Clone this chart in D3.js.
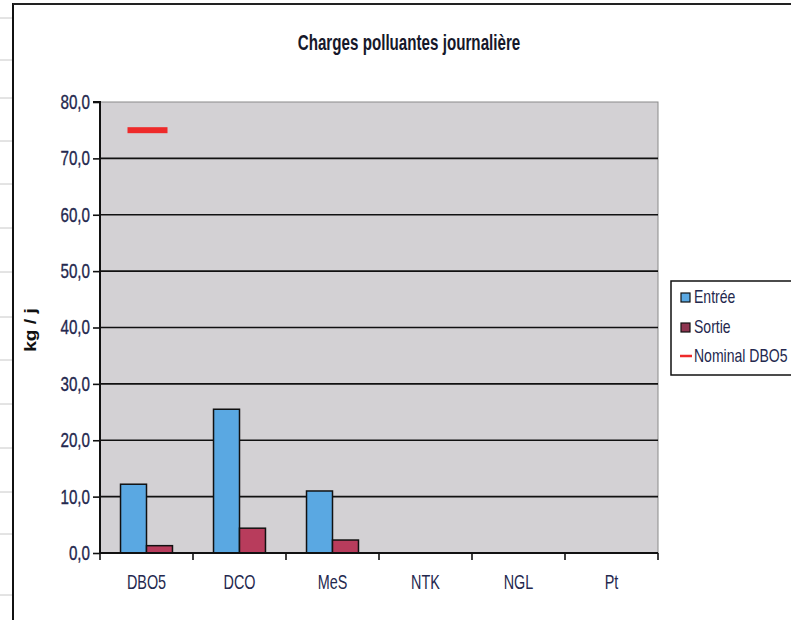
<!DOCTYPE html>
<html><head><meta charset="utf-8">
<script src="https://cdn.jsdelivr.net/npm/d3@7"></script>
<style>
body{margin:0;background:#fff;}
svg{display:block;}
text{font-family:"Liberation Sans",Arial,sans-serif;}
</style></head>
<body>
<svg id="c" width="791" height="620"></svg>
<script>
const categories = ["DBO5","DCO","MeS","NTK","NGL","Pt"];
const entree = [12.2, 25.5, 11.0, null, null, null];
const sortie = [1.3, 4.4, 2.3, null, null, null];
const nominalDBO5 = [75, null, null, null, null, null];
const yTicks = [0,10,20,30,40,50,60,70,80];
const seriesNames = ["Entrée","Sortie","Nominal DBO5"];

// condensed text helper (narrow font look)
function condense(sel, sx){
  sel.each(function(){
    const t = d3.select(this);
    const x = +t.attr("x") || 0;
    t.attr("x", x/sx).attr("transform", `scale(${sx},1)`);
  });
}

const svg = d3.select("#c");
// spreadsheet background traces
const bg = svg.append("g");
[18,60,98,141,184,228,272,317,360,404,448,492,534,595].forEach(y=>{
  bg.append("line").attr("x1",0).attr("x2",12).attr("y1",y).attr("y2",y).attr("stroke","#c8c8c8").attr("stroke-width",1);
});
// chart frame
svg.append("line").attr("x1",13).attr("x2",13).attr("y1",3).attr("y2",620).attr("stroke","#111").attr("stroke-width",2);
svg.append("line").attr("x1",13).attr("x2",791).attr("y1",4).attr("y2",4).attr("stroke","#222").attr("stroke-width",2);

const m = {l:100, r:658, t:102, b:553};
const x = d3.scaleBand().domain(categories).range([m.l, m.r]);
const y = d3.scaleLinear().domain([0,80]).range([m.b, m.t]);

// plot area
svg.append("rect").attr("x",m.l).attr("y",m.t).attr("width",m.r-m.l).attr("height",m.b-m.t)
  .attr("fill","#d3d1d4").attr("stroke","#8a8a8a").attr("stroke-width",1);

// gridlines
svg.append("g").selectAll("line").data(yTicks.filter(d=>d>0 && d<80)).join("line")
  .attr("x1",m.l).attr("x2",m.r).attr("y1",d=>y(d)).attr("y2",d=>y(d))
  .attr("stroke","#111").attr("stroke-width",1.6);

// bars
const inner = d3.scaleBand().domain(["e","s"]).range([0, x.bandwidth()]).paddingOuter(0.79).paddingInner(0);
const colors = {e:"#5aa8e2", s:"#b83c5c"};
[["e",entree],["s",sortie]].forEach(([k,arr])=>{
  svg.append("g").selectAll("rect").data(categories.map((c,i)=>({c,v:arr[i]})).filter(d=>d.v!=null)).join("rect")
    .attr("x",d=>x(d.c)+inner(k)).attr("width",inner.bandwidth())
    .attr("y",d=>y(d.v)).attr("height",d=>y(0)-y(d.v))
    .attr("fill",colors[k]).attr("stroke","#111").attr("stroke-width",1.5);
});

// nominal DBO5 marker
svg.append("g").selectAll("rect").data(categories.map((c,i)=>({c,v:nominalDBO5[i]})).filter(d=>d.v!=null)).join("rect")
  .attr("x",d=>x(d.c)+x.bandwidth()/2-19).attr("width",40)
  .attr("y",d=>y(d.v)-3).attr("height",6).attr("fill","#ee2a2a");

// axes
const yAxis = d3.axisLeft(y).tickValues(yTicks).tickSize(7).tickPadding(3)
  .tickFormat(d=>d3.format(".1f")(d).replace(".",","));
const gy = svg.append("g").attr("transform",`translate(${m.l},0)`).call(yAxis);
gy.select(".domain").attr("stroke","#111").attr("stroke-width",2).attr("d",`M-7,${m.t}H0V${m.b}`);
gy.selectAll(".tick line").attr("stroke","#111").attr("stroke-width",1.6);
gy.selectAll(".tick text").attr("font-size",20).attr("fill","#24284e")
  .attr("stroke","#24284e").attr("stroke-width",0.35);
condense(gy.selectAll(".tick text"), 0.76);

const xAxis = d3.axisBottom(x).tickSize(0).tickPadding(22);
const gx = svg.append("g").attr("transform",`translate(0,${m.b})`).call(xAxis);
gx.select(".domain").attr("stroke","#111").attr("stroke-width",2.2).attr("d",`M${m.l},0H${m.r}`);
gx.selectAll(".tick text").attr("font-size",20).attr("fill","#24284e");
condense(gx.selectAll(".tick text"), 0.72);
// category boundary ticks
svg.append("g").selectAll("line").data(categories.map(c=>x(c)).concat([m.r])).join("line")
  .attr("x1",d=>d).attr("x2",d=>d).attr("y1",m.b).attr("y2",m.b+7)
  .attr("stroke","#111").attr("stroke-width",1.6);

// title
const title = svg.append("text").attr("x",409).attr("y",50).attr("text-anchor","middle")
  .attr("font-size",22).attr("font-weight","bold").attr("fill","#16182a").text("Charges polluantes journalière");
condense(title, 0.69);
// y label
svg.append("text").attr("transform","translate(36,330) rotate(-90) scale(1.2,1)").attr("text-anchor","middle")
  .attr("font-size",16).attr("font-weight","bold").attr("fill","#111").text("kg / j");

// legend
const lg = svg.append("g");
lg.append("rect").attr("x",671).attr("y",281).attr("width",130).attr("height",94)
  .attr("fill","#fff").attr("stroke","#111").attr("stroke-width",1.5);
const items = [
  {name:seriesNames[0], type:"box", color:colors.e, y:303},
  {name:seriesNames[1], type:"box", color:"#8e3550", y:333},
  {name:seriesNames[2], type:"line", color:"#ee2a2a", y:362}
];
items.forEach(it=>{
  if(it.type==="box"){
    lg.append("rect").attr("x",681).attr("y",it.y-10).attr("width",9).attr("height",9)
      .attr("fill",it.color).attr("stroke","#111").attr("stroke-width",1.2);
  } else {
    lg.append("line").attr("x1",680).attr("x2",692).attr("y1",it.y-6).attr("y2",it.y-6)
      .attr("stroke",it.color).attr("stroke-width",2.5);
  }
  const t = lg.append("text").attr("x",694).attr("y",it.y).attr("font-size",18).attr("fill","#24284e").text(it.name);
  condense(t, 0.78);
});
</script>
</body></html>
